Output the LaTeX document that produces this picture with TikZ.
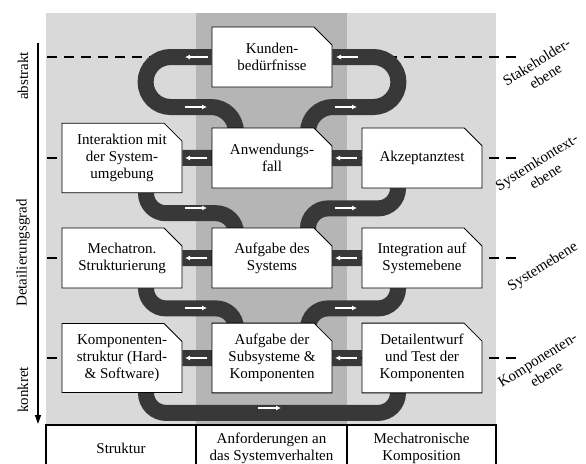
\documentclass[tikz,border=0pt]{standalone}
\usepackage{fontspec}
\setmainfont{Liberation Serif}
\usetikzlibrary{positioning, arrows.meta, shapes.misc}

\definecolor{bglight}{gray}{0.85}
\definecolor{bgmid}{gray}{0.71}
\definecolor{roadgray}{gray}{0.22}

\pgfdeclarelayer{back}
\pgfdeclarelayer{road}
\pgfsetlayers{back,road,main}

\begin{document}
\begin{tikzpicture}[
        x=1pt, y=-1pt,
        font=\fontsize{15}{17}\selectfont,
        box/.style={chamfered rectangle, chamfered rectangle corners=north east,
            chamfered rectangle xsep=9pt, chamfered rectangle ysep=9pt,
            draw, fill=white, line width=0.8pt, minimum width=120pt, minimum height=60pt,
            align=center, inner sep=2pt},
        cell/.style={rectangle, draw, line width=1.5pt, minimum height=46pt, align=center, inner sep=0pt},
        lvl/.style={align=center, rotate=32, inner sep=0pt},
        level/.style={dashed, dash pattern=on 10pt off 7pt, line width=2pt},
        road/.style={draw=roadgray, line width=16pt},
        flow/.style={white, line width=1.3pt, -{Latex[length=5pt, width=5pt]}},
        axis/.style={line width=1.3pt, -{Triangle[length=9pt, width=6pt]}}
      ]
        \useasboundingbox (0,0) rectangle (586,463);

        % Stakeholder level
        \node[box] (kunden) at (272,57) {Kunden-\\bedürfnisse};

        % System context level
        \node[box] (interaktion) at (122,158) {Interaktion mit\\der System-\\umgebung};
        \node[box] (anwendung) at (272,158) {Anwendungs-\\fall};
        \node[box] (akzeptanz) at (422,158) {Akzeptanztest};

        % System level
        \node[box] (mechatron) at (122,258) {Mechatron.\\Strukturierung};
        \node[box] (aufgabe) at (272,258) {Aufgabe des\\Systems};
        \node[box] (integration) at (422,258) {Integration auf\\Systemebene};

        % Component level
        \node[box] (kompstruktur) at (122,358) {Komponenten-\\struktur (Hard-\\\& Software)};
        \node[box] (subsysteme) at (272,358) {Aufgabe der\\Subsysteme \&\\Komponenten};
        \node[box] (detail) at (422,358) {Detailentwurf\\und Test der\\Komponenten};

        % Level names
        \node[lvl] (lvstake) at (541,69) {Stakeholder-\\ebene};
        \node[lvl] (lvkontext) at (541,169) {Systemkontext-\\ebene};
        \node[lvl] (lvsystem) at (543,267) {Systemebene};
        \node[lvl] (lvkomp) at (542,367) {Komponenten-\\ebene};

        % Axis
        \node[rotate=90] (abstrakt) at (23,76) {abstrakt};
        \node[rotate=90] (grad) at (23,253) {Detailierungsgrad};
        \node[rotate=90] (konkret) at (23,390) {konkret};
        \draw[axis] (38,43) -- (38,424);

        % Table
        \node[cell, minimum width=150pt] (colstruktur) at (121,448) {Struktur};
        \node[cell, minimum width=151pt] (colanforderung) at (271.5,448) {Anforderungen an\\das Systemverhalten};
        \node[cell, minimum width=149pt] (colkomposition) at (421.5,448) {Mechatronische\\Komposition};

        \begin{pgfonlayer}{back}
          \fill[bglight] (46,13) rectangle (496,425);
          \fill[bgmid] (196,13) rectangle (347,425);
          \draw[level] (47,57) -- (518,57);
          \draw[level] (47,158) -- (518,158);
          \draw[level] (47,258) -- (518,258);
          \draw[level] (47,358) -- (518,358);
        \end{pgfonlayer}

        \begin{pgfonlayer}{road}
          % loops
          \draw[road, rounded corners=25pt] (kunden.west) -- ++(-66,0) -- ++(0,50) -| ([xshift=-36pt, yshift=-12pt]anwendung.north);
          \draw[road, rounded corners=25pt] (kunden.east) -- ++(66,0) -- ++(0,50) -| ([xshift=36pt, yshift=-12pt]anwendung.north);

          % rows
          \draw[road] (interaktion) -- (akzeptanz);
          \draw[road] (mechatron) -- (integration);
          \draw[road] (kompstruktur) -- (detail);

          % bends
          \draw[road, rounded corners=20pt] ([xshift=24pt, yshift=10pt]interaktion.south) -- ++(0,30) -| ([xshift=-36pt, yshift=-12pt]aufgabe.north);
          \draw[road, rounded corners=20pt] ([xshift=-24pt, yshift=10pt]akzeptanz.south) -- ++(0,30) -| ([xshift=36pt, yshift=-12pt]aufgabe.north);
          \draw[road, rounded corners=20pt] ([xshift=24pt, yshift=10pt]mechatron.south) -- ++(0,30) -| ([xshift=-36pt, yshift=-12pt]subsysteme.north);
          \draw[road, rounded corners=20pt] ([xshift=-24pt, yshift=10pt]integration.south) -- ++(0,30) -| ([xshift=36pt, yshift=-12pt]subsysteme.north);
          \draw[road, rounded corners=20pt] ([xshift=24pt, yshift=10pt]kompstruktur.south) -- ++(0,30) -| ([xshift=-24pt, yshift=10pt]detail.south);

          % flow marks
          \draw[flow] (208,57) -- (185,57);
          \draw[flow] (358,57) -- (336,57);
          \foreach \y in {158,258,358} {
            \draw[flow] (207,\y) -- (185,\y);
            \draw[flow] (357,\y) -- (335,\y);
          }
          \foreach \y in {107,208,308} {
            \draw[flow] (185,\y) -- (207,\y);
            \draw[flow] (335,\y) -- (357,\y);
          }
          \draw[flow] (258,408) -- (281,408);
        \end{pgfonlayer}
      \end{tikzpicture}
\end{document}
